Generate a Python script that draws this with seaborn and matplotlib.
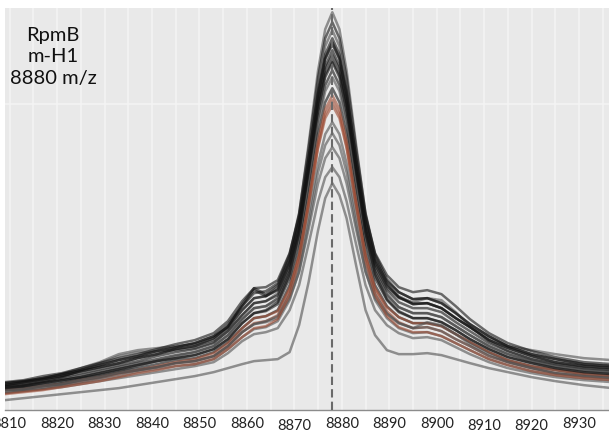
import seaborn as sns
import pandas as pd
import matplotlib.pyplot as plt
from matplotlib.ticker import MultipleLocator
from matplotlib.transforms import ScaledTranslation

# m/z sampling points shared by all spectra
mz = [8809, 8813, 8817, 8821, 8825, 8829, 8833, 8837, 8841, 8845,
      8849, 8853, 8856, 8859, 8861.5, 8864, 8866.5, 8869, 8871, 8873,
      8875, 8876.5, 8878, 8879.5, 8881, 8883, 8885, 8887, 8889.5, 8892,
      8895, 8898, 8901, 8904, 8907, 8911, 8915, 8920, 8925, 8931, 8937]

# intensities (arbitrary units)
c01 = [25, 28, 31, 36, 42, 48, 56, 60, 62, 64, 66, 72, 83, 100, 112, 114, 123, 153, 196, 266, 340, 381, 398, 381, 340, 266, 196, 153, 127, 114, 107, 107, 102, 92, 83, 72, 64, 60, 56, 52, 50]
c02 = [27, 29, 32, 36, 40, 45, 50, 54, 59, 63, 67, 74, 86, 104, 117, 119, 127, 156, 197, 262, 333, 372, 388, 372, 333, 262, 197, 156, 131, 118, 111, 112, 107, 97, 86, 74, 64, 56, 51, 46, 44]
c03 = [24, 26, 29, 33, 40, 47, 54, 58, 59, 60, 62, 68, 79, 95, 107, 109, 117, 146, 188, 254, 325, 364, 380, 364, 325, 254, 188, 146, 122, 112, 108, 112, 110, 98, 84, 69, 59, 51, 46, 42, 40]
c04 = [25, 28, 31, 34, 39, 43, 47, 52, 56, 61, 64, 70, 82, 100, 112, 114, 121, 149, 189, 252, 320, 356, 372, 356, 320, 252, 189, 149, 126, 113, 106, 107, 102, 92, 83, 70, 62, 54, 48, 44, 42]
c05 = [28, 30, 34, 37, 42, 47, 52, 56, 61, 66, 70, 77, 89, 109, 122, 123, 130, 157, 194, 253, 317, 351, 366, 351, 317, 253, 194, 157, 135, 123, 118, 120, 116, 104, 91, 77, 67, 59, 53, 48, 46]
c06 = [23, 25, 28, 31, 35, 39, 43, 47, 51, 55, 58, 64, 75, 91, 102, 104, 112, 139, 178, 240, 308, 344, 360, 344, 308, 240, 178, 139, 116, 103, 97, 97, 93, 84, 75, 64, 56, 49, 44, 40, 38]
c07 = [27, 29, 32, 36, 40, 45, 50, 54, 59, 63, 67, 74, 83, 106, 122, 116, 125, 151, 187, 245, 307, 341, 355, 341, 307, 245, 187, 151, 129, 118, 111, 112, 107, 97, 86, 74, 64, 56, 51, 46, 44]
c08 = [24, 26, 29, 33, 37, 41, 45, 49, 54, 58, 61, 67, 79, 95, 107, 109, 115, 142, 178, 236, 299, 333, 348, 333, 299, 236, 178, 142, 120, 108, 102, 102, 98, 88, 79, 67, 59, 51, 46, 42, 40]
c09 = [22, 24, 27, 30, 33, 37, 41, 45, 49, 52, 55, 61, 71, 87, 97, 99, 106, 132, 169, 227, 291, 325, 340, 325, 291, 227, 169, 132, 110, 98, 92, 92, 88, 80, 71, 61, 53, 47, 42, 38, 36]
c10 = [20, 22, 24, 27, 31, 35, 39, 44, 49, 54, 58, 64, 75, 91, 102, 104, 110, 135, 170, 226, 286, 319, 333, 319, 286, 226, 170, 135, 114, 103, 97, 97, 93, 84, 75, 64, 56, 49, 44, 40, 38]
c11 = [21, 23, 25, 28, 32, 35, 39, 42, 46, 50, 52, 58, 68, 82, 92, 94, 100, 125, 160, 215, 276, 308, 322, 308, 276, 215, 160, 125, 104, 93, 87, 87, 84, 76, 68, 58, 50, 44, 40, 36, 34]
c12 = [20, 21, 24, 26, 30, 33, 37, 40, 43, 47, 49, 54, 64, 78, 87, 89, 95, 120, 154, 209, 269, 301, 315, 301, 269, 209, 154, 120, 99, 88, 82, 83, 79, 71, 64, 54, 48, 42, 37, 34, 32]
c13 = [17, 19, 21, 24, 28, 32, 36, 40, 44, 48, 51, 57, 67, 82, 92, 94, 99, 122, 155, 206, 262, 292, 305, 292, 262, 206, 155, 122, 103, 93, 87, 87, 84, 76, 68, 58, 50, 44, 40, 36, 34]
c14 = [20, 21, 24, 26, 30, 33, 37, 40, 43, 47, 49, 54, 64, 78, 86, 89, 94, 116, 146, 195, 247, 276, 288, 276, 247, 195, 146, 116, 97, 87, 82, 83, 79, 71, 64, 54, 48, 42, 37, 34, 32]
c15 = [18, 20, 22, 25, 28, 31, 34, 38, 41, 44, 46, 51, 61, 73, 81, 83, 89, 110, 139, 186, 238, 265, 277, 265, 238, 186, 139, 110, 92, 82, 77, 78, 74, 67, 60, 51, 45, 39, 35, 32, 30]
c16 = [20, 21, 24, 26, 30, 33, 37, 40, 43, 47, 49, 54, 64, 78, 86, 88, 92, 112, 138, 181, 227, 252, 263, 252, 227, 181, 138, 112, 96, 87, 82, 88, 85, 76, 66, 56, 48, 42, 37, 34, 32]
c17 = [17, 19, 21, 23, 26, 29, 32, 35, 38, 41, 44, 48, 57, 69, 76, 78, 82, 100, 125, 166, 209, 233, 243, 233, 209, 166, 125, 100, 85, 77, 72, 73, 70, 63, 56, 48, 42, 37, 33, 30, 28]
c18 = [10, 12, 14, 16, 18, 20, 22, 25, 28, 31, 34, 38, 42, 46, 49, 50, 51, 58, 85, 128, 180, 212, 227, 215, 192, 145, 100, 75, 60, 56, 56, 57, 55, 51, 47, 42, 38, 33, 29, 25, 22]
c19 = [16, 18, 20, 23, 26, 29, 33, 37, 40, 44, 46, 51, 61, 73, 82, 84, 91, 115, 149, 204, 264, 296, 310, 296, 264, 204, 149, 115, 94, 83, 78, 78, 74, 67, 60, 51, 45, 39, 35, 32, 30]
c20 = [25, 28, 31, 34, 39, 43, 47, 52, 56, 61, 64, 72, 84, 104, 120, 114, 120, 146, 182, 240, 302, 336, 350, 336, 302, 240, 182, 146, 124, 113, 106, 107, 102, 92, 83, 70, 62, 54, 48, 44, 42]
c21 = [22, 24, 27, 30, 33, 37, 41, 45, 49, 52, 55, 61, 71, 87, 97, 100, 108, 136, 177, 242, 313, 352, 368, 352, 313, 242, 177, 136, 111, 99, 92, 92, 88, 80, 71, 61, 53, 47, 42, 38, 36]

spectra = [c01, c02, c03, c04, c05, c06, c07, c08, c09, c10, c11,
           c12, c13, c14, c15, c16, c17, c18, c19, c20, c21]
kinds = ['gray', 'black', 'gray', 'black', 'black', 'black', 'black', 'black',
         'black', 'gray', 'black', 'red', 'red', 'gray', 'gray', 'gray',
         'gray', 'gray', 'red', 'black', 'black']
ticks = [8810, 8820, 8830, 8840, 8850, 8860, 8870, 8880, 8890, 8900, 8910, 8920, 8930]
peak_mz = 8878
label = 'RpmB\nm-H1\n8880 m/z'

kind_color = {'black': '#121212', 'gray': '#505050', 'red': '#9c4a32'}

rows = []
for i, (vals, k) in enumerate(zip(spectra, kinds)):
    assert len(vals) == len(mz)
    for x, y in zip(mz, vals):
        rows.append({'spectrum': f'c{i+1:02d}', 'mz': x, 'intensity': y})
df = pd.DataFrame(rows)
palette = {f'c{i+1:02d}': kind_color[k] for i, k in enumerate(kinds)}

sns.set_style('darkgrid', {'axes.facecolor': '#e9e9e9', 'grid.color': '#f4f4f4'})
plt.rcParams['font.family'] = ['Lato', 'DejaVu Sans']

fig = plt.figure(figsize=(6.09, 4.34), dpi=100)
ax = fig.add_axes([0.008, 0.055, 0.992, 0.926])

sns.lineplot(data=df, x='mz', y='intensity', hue='spectrum', units='spectrum',
             estimator=None, palette=palette, legend=False, linewidth=1.8,
             alpha=0.6, sort=True, ax=ax)

ax.axvline(peak_mz, color='#6a6a6a', lw=1.5, linestyle=(0, (4, 2)), zorder=5)

ax.set_xlim(8809, 8936.3)
ax.set_ylim(0, 402)
ax.set_xticks(ticks)
ax.set_xticklabels([str(t) for t in ticks], fontsize=10.5, color='#222222')
ax.xaxis.set_minor_locator(MultipleLocator(5))
ax.set_yticks([306])
ax.set_yticklabels([])
ax.tick_params(axis='both', which='both', length=0)
ax.tick_params(axis='x', pad=5)
ax.grid(True, which='both', axis='x', lw=1.1)
ax.grid(True, which='major', axis='y', lw=1.1)
ax.set_xlabel('')
ax.set_ylabel('')
for side in ['left', 'right', 'top']:
    ax.spines[side].set_visible(False)
ax.spines['bottom'].set_visible(True)
ax.spines['bottom'].set_color('#8c8c8c')
ax.spines['bottom'].set_linewidth(1.0)

# a few labels sit a little lower in the original
shift = ScaledTranslation(0, -0.02, fig.dpi_scale_trans)
for lab in ax.get_xticklabels():
    if lab.get_text() in ('8870', '8910', '8920'):
        lab.set_transform(lab.get_transform() + shift)

fig.text(0.087, 0.869, label, ha='center', va='center', multialignment='center',
         fontsize=14.5, linespacing=1.3, color='#111111')

fig.savefig('out.png', dpi=100, facecolor='white')
